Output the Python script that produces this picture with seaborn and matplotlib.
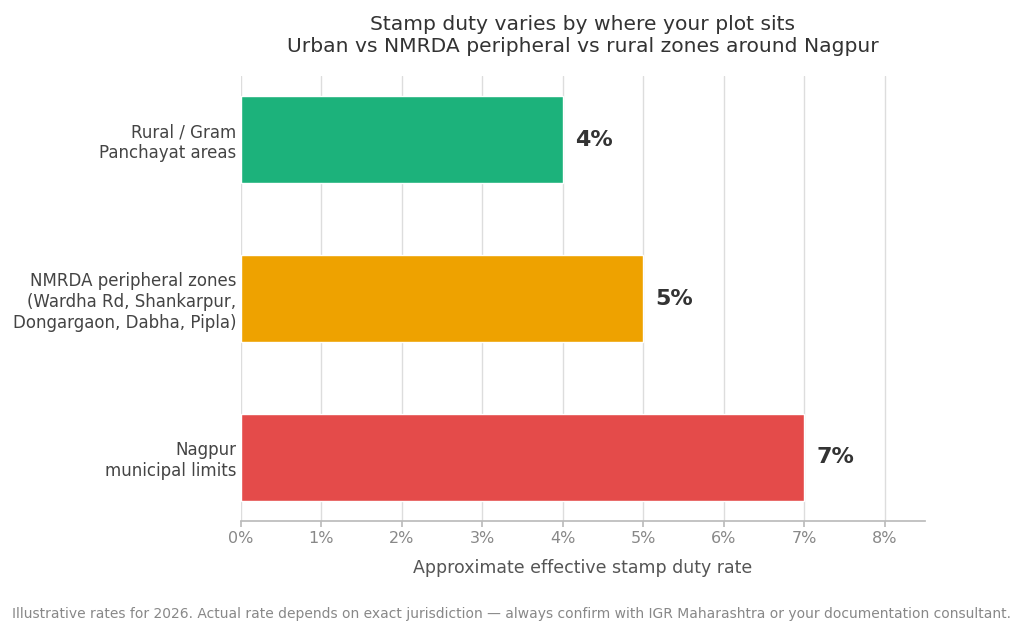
import matplotlib
matplotlib.use("Agg")
import matplotlib.pyplot as plt
import seaborn as sns
import pandas as pd

# Data
zones = [
    "Rural / Gram\nPanchayat areas",
    "NMRDA peripheral zones\n(Wardha Rd, Shankarpur,\nDongargaon, Dabha, Pipla)",
    "Nagpur\nmunicipal limits",
]
rates = [4, 5, 7]
colors = ["#1cb27b", "#eea200", "#e44b4a"]

df = pd.DataFrame({"zone": zones, "rate": rates})

sns.set_theme(style="white")
plt.rcParams["font.family"] = ["DejaVu Sans"]

fig = plt.figure(figsize=(10.24, 6.33), dpi=100)
ax = fig.add_axes([241 / 1024, 1 - 521 / 633, 684 / 1024, 445 / 633])

sns.barplot(data=df, x="rate", y="zone", hue="zone", palette=colors,
            saturation=1, width=0.55, legend=False, ax=ax, zorder=3)

# Value labels
for i, v in enumerate(rates):
    ax.text(v + 0.15, i, f"{v}%", va="center", ha="left",
            fontsize=16, fontweight="bold", color="#333333")

ax.set_xlim(0, 8.5)
ax.set_ylim(2.4, -0.4)
ax.set_xticks(range(0, 9))
ax.set_xticklabels([f"{t}%" for t in range(0, 9)])

ax.grid(axis="x", color="#dddddd", linewidth=1, zorder=0)
ax.set_axisbelow(True)
for s in ["top", "right", "left"]:
    ax.spines[s].set_visible(False)
ax.spines["bottom"].set_color("#bbbbbb")

ax.tick_params(axis="x", colors="#888888", labelsize=11.5, length=4,
               bottom=True, color="#bbbbbb")
ax.tick_params(axis="y", labelsize=12, labelcolor="#444444", length=0, pad=3.5)

ax.set_xlabel("Approximate effective stamp duty rate", fontsize=12.5,
              color="#555555", labelpad=9)
ax.set_ylabel("")

ax.set_title("Stamp duty varies by where your plot sits\n"
             "Urban vs NMRDA peripheral vs rural zones around Nagpur",
             fontsize=14.6, color="#333333", pad=17)

fig.text(0.5, 1 - 614 / 633,
         "Illustrative rates for 2026. Actual rate depends on exact jurisdiction"
         " \u2014 always confirm with IGR Maharashtra or your documentation consultant.",
         ha="center", va="center", fontsize=10, color="#888888")

fig.savefig("out.png", dpi=100)
